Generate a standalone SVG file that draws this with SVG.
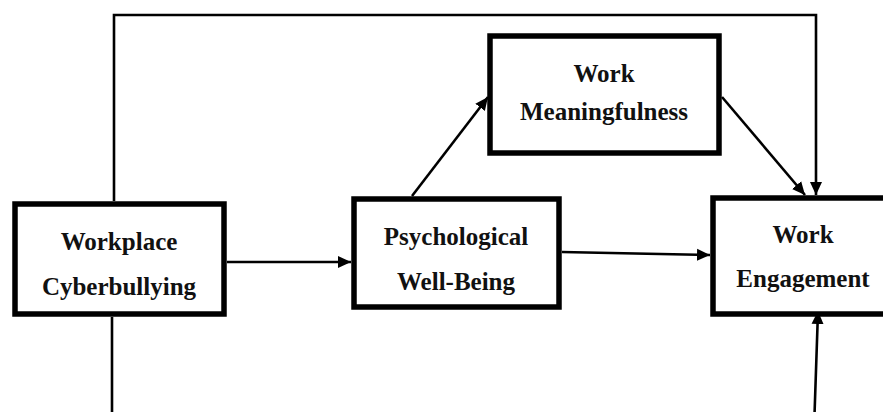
<svg xmlns="http://www.w3.org/2000/svg" width="883" height="412" viewBox="0 0 883 412">
<style>
.box{fill:#fff;stroke:#000;stroke-width:5.5}
.lbl{font-family:"Liberation Serif","Times New Roman",serif;font-weight:bold;font-size:25px;fill:#111;text-anchor:middle}
.con{fill:none;stroke:#000;stroke-width:2.6}
</style>
<defs>
<marker id="ah" viewBox="0 0 13 13" refX="13" refY="6.5" markerWidth="13" markerHeight="13" markerUnits="userSpaceOnUse" orient="auto">
<path d="M0,0.5 L13,6.5 L0,12.5 z" fill="#000"/>
</marker>
</defs>
<rect width="883" height="412" fill="#fff"/>
<g id="connectors">
<path class="con" d="M114,201 V15 H816 V195" marker-end="url(#ah)"/>
<path class="con" d="M112,317 V430 H814 L818,311" marker-end="url(#ah)"/>
<path class="con" d="M227,262 H351" marker-end="url(#ah)"/>
<path class="con" d="M562,252 L710,255" marker-end="url(#ah)"/>
<path class="con" d="M412,196 L488,97" marker-end="url(#ah)"/>
<path class="con" d="M722,97 L805,195" marker-end="url(#ah)"/>
</g>
<g id="workplace-cyberbullying">
<rect class="box" x="15" y="204" width="209" height="110"/>
<text class="lbl" x="119" y="250">Workplace</text>
<text class="lbl" x="119" y="295">Cyberbullying</text>
</g>
<g id="psychological-well-being">
<rect class="box" x="354" y="199" width="205" height="108"/>
<text class="lbl" x="456" y="245">Psychological</text>
<text class="lbl" x="456" y="290">Well-Being</text>
</g>
<g id="work-meaningfulness">
<rect class="box" x="490" y="36" width="229" height="117"/>
<text class="lbl" x="604" y="82">Work</text>
<text class="lbl" x="604" y="120">Meaningfulness</text>
</g>
<g id="work-engagement">
<rect class="box" x="713" y="198" width="200" height="116"/>
<text class="lbl" x="803" y="243">Work</text>
<text class="lbl" x="803" y="287">Engagement</text>
</g>
</svg>
